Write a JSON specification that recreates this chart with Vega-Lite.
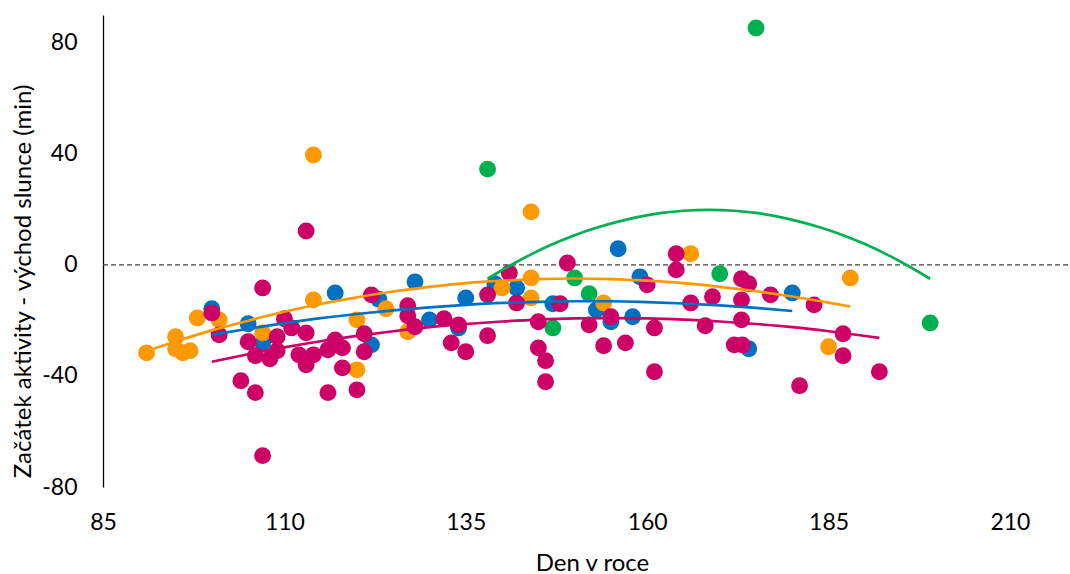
{
  "$schema": "https://vega.github.io/schema/vega-lite/v6.json",
  "autosize": "none",
  "width": 965,
  "height": 472,
  "padding": {"left": 103, "top": 15, "right": 2, "bottom": 87},
  "background": "white",
  "config": {"view": {"stroke": null}, "font": "Lato"},
  "datasets": {
    "points": [
      {"s": "blue", "d": 100, "v": -15.8}, {"s": "blue", "d": 105, "v": -21.2}, {"s": "blue", "d": 107, "v": -28.1},
      {"s": "blue", "d": 117, "v": -10.1}, {"s": "blue", "d": 123, "v": -12.4}, {"s": "blue", "d": 122, "v": -28.8},
      {"s": "blue", "d": 128, "v": -6.1}, {"s": "blue", "d": 130, "v": -19.8}, {"s": "blue", "d": 134, "v": -22.7},
      {"s": "blue", "d": 135, "v": -11.9}, {"s": "blue", "d": 139, "v": -6.8}, {"s": "blue", "d": 142, "v": -8.3},
      {"s": "blue", "d": 147, "v": -14.0}, {"s": "blue", "d": 153, "v": -16.2}, {"s": "blue", "d": 155, "v": -20.5},
      {"s": "blue", "d": 156, "v": 5.8}, {"s": "blue", "d": 158, "v": -18.7}, {"s": "blue", "d": 159, "v": -4.3},
      {"s": "blue", "d": 174, "v": -30.2}, {"s": "blue", "d": 180, "v": -10.1},
      {"s": "orange", "d": 91, "v": -31.7}, {"s": "orange", "d": 95, "v": -25.9}, {"s": "orange", "d": 95, "v": -30.2},
      {"s": "orange", "d": 96, "v": -31.7}, {"s": "orange", "d": 97, "v": -30.9}, {"s": "orange", "d": 98, "v": -19.1},
      {"s": "orange", "d": 101, "v": -19.8}, {"s": "orange", "d": 107, "v": -24.5}, {"s": "orange", "d": 114, "v": -12.6},
      {"s": "orange", "d": 114, "v": 39.6}, {"s": "orange", "d": 120, "v": -19.8}, {"s": "orange", "d": 120, "v": -37.8},
      {"s": "orange", "d": 124, "v": -15.8}, {"s": "orange", "d": 127, "v": -24.1}, {"s": "orange", "d": 140, "v": -8.3},
      {"s": "orange", "d": 144, "v": 19.1}, {"s": "orange", "d": 144, "v": -4.7}, {"s": "orange", "d": 144, "v": -11.9},
      {"s": "orange", "d": 154, "v": -13.7}, {"s": "orange", "d": 166, "v": 4.0}, {"s": "orange", "d": 185, "v": -29.5},
      {"s": "orange", "d": 188, "v": -4.7},
      {"s": "green", "d": 138, "v": 34.5}, {"s": "green", "d": 147, "v": -22.7}, {"s": "green", "d": 150, "v": -4.7},
      {"s": "green", "d": 152, "v": -10.4}, {"s": "green", "d": 170, "v": -3.2}, {"s": "green", "d": 175, "v": 85.3},
      {"s": "green", "d": 199, "v": -20.9},
      {"s": "magenta", "d": 100, "v": -17.3}, {"s": "magenta", "d": 101, "v": -25.2}, {"s": "magenta", "d": 107, "v": -8.3},
      {"s": "magenta", "d": 113, "v": 12.2}, {"s": "magenta", "d": 104, "v": -41.7}, {"s": "magenta", "d": 106, "v": -46.0},
      {"s": "magenta", "d": 107, "v": -68.7}, {"s": "magenta", "d": 105, "v": -27.7}, {"s": "magenta", "d": 106, "v": -32.7},
      {"s": "magenta", "d": 108, "v": -33.8}, {"s": "magenta", "d": 109, "v": -30.9}, {"s": "magenta", "d": 109, "v": -25.9},
      {"s": "magenta", "d": 110, "v": -19.4}, {"s": "magenta", "d": 111, "v": -22.7}, {"s": "magenta", "d": 113, "v": -24.5},
      {"s": "magenta", "d": 112, "v": -32.4}, {"s": "magenta", "d": 113, "v": -36.0}, {"s": "magenta", "d": 114, "v": -32.4},
      {"s": "magenta", "d": 116, "v": -30.6}, {"s": "magenta", "d": 117, "v": -27.0}, {"s": "magenta", "d": 118, "v": -29.9},
      {"s": "magenta", "d": 118, "v": -37.1}, {"s": "magenta", "d": 121, "v": -31.3}, {"s": "magenta", "d": 121, "v": -24.8},
      {"s": "magenta", "d": 116, "v": -46.0}, {"s": "magenta", "d": 120, "v": -45.0}, {"s": "magenta", "d": 122, "v": -10.8},
      {"s": "magenta", "d": 127, "v": -14.7}, {"s": "magenta", "d": 127, "v": -18.3}, {"s": "magenta", "d": 128, "v": -22.3},
      {"s": "magenta", "d": 132, "v": -19.4}, {"s": "magenta", "d": 133, "v": -28.1}, {"s": "magenta", "d": 134, "v": -21.6},
      {"s": "magenta", "d": 135, "v": -31.3}, {"s": "magenta", "d": 138, "v": -25.5}, {"s": "magenta", "d": 138, "v": -10.8},
      {"s": "magenta", "d": 141, "v": -2.9}, {"s": "magenta", "d": 142, "v": -13.7}, {"s": "magenta", "d": 145, "v": -20.5},
      {"s": "magenta", "d": 145, "v": -29.9}, {"s": "magenta", "d": 146, "v": -34.5}, {"s": "magenta", "d": 146, "v": -42.1},
      {"s": "magenta", "d": 148, "v": -14.0}, {"s": "magenta", "d": 149, "v": 0.7}, {"s": "magenta", "d": 152, "v": -21.6},
      {"s": "magenta", "d": 155, "v": -18.7}, {"s": "magenta", "d": 154, "v": -29.1}, {"s": "magenta", "d": 157, "v": -28.1},
      {"s": "magenta", "d": 160, "v": -7.2}, {"s": "magenta", "d": 161, "v": -22.7}, {"s": "magenta", "d": 161, "v": -38.5},
      {"s": "magenta", "d": 164, "v": 4.0}, {"s": "magenta", "d": 164, "v": -1.8}, {"s": "magenta", "d": 166, "v": -13.7},
      {"s": "magenta", "d": 168, "v": -21.9}, {"s": "magenta", "d": 169, "v": -11.5}, {"s": "magenta", "d": 173, "v": -5.0},
      {"s": "magenta", "d": 174, "v": -6.8}, {"s": "magenta", "d": 173, "v": -12.6}, {"s": "magenta", "d": 173, "v": -19.8},
      {"s": "magenta", "d": 172, "v": -28.8}, {"s": "magenta", "d": 173.1, "v": -28.8}, {"s": "magenta", "d": 177, "v": -10.8},
      {"s": "magenta", "d": 183, "v": -14.4}, {"s": "magenta", "d": 187, "v": -24.8}, {"s": "magenta", "d": 187, "v": -32.7},
      {"s": "magenta", "d": 192, "v": -38.5}, {"s": "magenta", "d": 181, "v": -43.5}
    ],
    "trends": [
      {"s": "blue", "d": 100, "v": -25.2}, {"s": "blue", "d": 105, "v": -23.0}, {"s": "blue", "d": 110, "v": -21.0},
      {"s": "blue", "d": 115, "v": -19.2}, {"s": "blue", "d": 120, "v": -17.7}, {"s": "blue", "d": 125, "v": -16.4},
      {"s": "blue", "d": 130, "v": -15.3}, {"s": "blue", "d": 135, "v": -14.4}, {"s": "blue", "d": 140, "v": -13.7},
      {"s": "blue", "d": 145, "v": -13.3}, {"s": "blue", "d": 150, "v": -13.1}, {"s": "blue", "d": 155, "v": -13.1},
      {"s": "blue", "d": 160, "v": -13.4}, {"s": "blue", "d": 165, "v": -13.9}, {"s": "blue", "d": 170, "v": -14.6},
      {"s": "blue", "d": 175, "v": -15.5}, {"s": "blue", "d": 180, "v": -16.6},
      {"s": "orange", "d": 91, "v": -31.0}, {"s": "orange", "d": 95, "v": -27.6}, {"s": "orange", "d": 100, "v": -23.6},
      {"s": "orange", "d": 105, "v": -20.1}, {"s": "orange", "d": 110, "v": -16.9}, {"s": "orange", "d": 115, "v": -14.1},
      {"s": "orange", "d": 120, "v": -11.7}, {"s": "orange", "d": 125, "v": -9.6}, {"s": "orange", "d": 130, "v": -7.9},
      {"s": "orange", "d": 135, "v": -6.6}, {"s": "orange", "d": 140, "v": -5.7}, {"s": "orange", "d": 145, "v": -5.1},
      {"s": "orange", "d": 150, "v": -4.9}, {"s": "orange", "d": 155, "v": -5.1}, {"s": "orange", "d": 160, "v": -5.7},
      {"s": "orange", "d": 165, "v": -6.6}, {"s": "orange", "d": 170, "v": -7.9}, {"s": "orange", "d": 175, "v": -9.5},
      {"s": "orange", "d": 180, "v": -11.4}, {"s": "orange", "d": 185, "v": -13.6}, {"s": "orange", "d": 188, "v": -15.0},
      {"s": "green", "d": 138, "v": -5.0}, {"s": "green", "d": 141, "v": -0.4}, {"s": "green", "d": 144, "v": 3.8},
      {"s": "green", "d": 147, "v": 7.5}, {"s": "green", "d": 150, "v": 10.7}, {"s": "green", "d": 153, "v": 13.4},
      {"s": "green", "d": 156, "v": 15.6}, {"s": "green", "d": 159, "v": 17.4}, {"s": "green", "d": 162, "v": 18.7},
      {"s": "green", "d": 165, "v": 19.5}, {"s": "green", "d": 168.5, "v": 19.8}, {"s": "green", "d": 172, "v": 19.5},
      {"s": "green", "d": 175, "v": 18.7}, {"s": "green", "d": 178, "v": 17.4}, {"s": "green", "d": 181, "v": 15.6},
      {"s": "green", "d": 184, "v": 13.4}, {"s": "green", "d": 187, "v": 10.7}, {"s": "green", "d": 190, "v": 7.5},
      {"s": "green", "d": 193, "v": 3.8}, {"s": "green", "d": 196, "v": -0.4}, {"s": "green", "d": 199, "v": -5.0},
      {"s": "magenta", "d": 100, "v": -34.9}, {"s": "magenta", "d": 105, "v": -32.2}, {"s": "magenta", "d": 110, "v": -29.7},
      {"s": "magenta", "d": 115, "v": -27.5}, {"s": "magenta", "d": 120, "v": -25.6}, {"s": "magenta", "d": 125, "v": -23.9},
      {"s": "magenta", "d": 130, "v": -22.45}, {"s": "magenta", "d": 135, "v": -21.3}, {"s": "magenta", "d": 140, "v": -20.4},
      {"s": "magenta", "d": 145, "v": -19.7}, {"s": "magenta", "d": 150, "v": -19.3}, {"s": "magenta", "d": 155, "v": -19.2},
      {"s": "magenta", "d": 160, "v": -19.3}, {"s": "magenta", "d": 165, "v": -19.7}, {"s": "magenta", "d": 170, "v": -20.4},
      {"s": "magenta", "d": 175, "v": -21.3}, {"s": "magenta", "d": 180, "v": -22.45}, {"s": "magenta", "d": 185, "v": -23.9},
      {"s": "magenta", "d": 192, "v": -26.3}
    ],
    "zero": [{"v": 0}]
  },
  "layer": [
    {
      "data": {"name": "zero"},
      "mark": {"type": "rule", "color": "#404040", "strokeWidth": 1.3, "strokeDash": [5, 3]},
      "encoding": {"y": {"field": "v", "type": "quantitative", "scale": {"domain": [-80, 90], "nice": false, "zero": false}}}
    },
    {
      "data": {"name": "points"},
      "mark": {"type": "circle", "size": 285, "opacity": 1},
      "encoding": {
        "x": {
          "field": "d", "type": "quantitative",
          "scale": {"domain": [85, 218], "nice": false, "zero": false},
          "axis": {
            "title": "Den v roce", "values": [85, 110, 135, 160, 185, 210],
            "domain": false, "ticks": false, "grid": false,
            "labelFontSize": 23, "labelColor": "#000000", "labelBaseline": "middle", "labelPadding": 35,
            "labelFont": "Lato", "labelFlush": false,
            "titleFont": "Lato", "titleFontSize": 24, "titleFontWeight": "normal", "titleColor": "#000000",
            "titleBaseline": "middle", "titleX": 489, "titleY": 76, "titleAnchor": "middle"
          }
        },
        "y": {
          "field": "v", "type": "quantitative",
          "scale": {"domain": [-80, 90], "nice": false, "zero": false},
          "axis": {
            "title": "Začátek aktivity - východ slunce (min)", "values": [-80, -40, 0, 40, 80],
            "labelExpr": "datum.value < 0 ? '-' + abs(datum.value) : '' + datum.value",
            "domain": true, "domainColor": "#000000", "domainWidth": 1.3, "ticks": false, "grid": false,
            "labelFontSize": 23, "labelColor": "#000000", "labelPadding": 26, "labelFont": "Lato", "labelFlush": false,
            "titleFont": "Lato", "titleFontSize": 24, "titleFontWeight": "normal", "titleColor": "#000000",
            "titleBaseline": "middle", "titleX": -80, "titleY": 266, "titleAnchor": "middle"
          }
        },
        "color": {
          "field": "s", "type": "nominal",
          "scale": {"domain": ["blue", "orange", "green", "magenta"], "range": ["#0070C0", "#FF9900", "#00B050", "#CC0066"]},
          "legend": null
        }
      }
    },
    {
      "data": {"name": "trends"},
      "mark": {"type": "line", "strokeWidth": 2.7, "interpolate": "monotone"},
      "encoding": {
        "x": {"field": "d", "type": "quantitative"},
        "y": {"field": "v", "type": "quantitative"},
        "color": {"field": "s", "type": "nominal", "legend": null}
      }
    }
  ]
}
